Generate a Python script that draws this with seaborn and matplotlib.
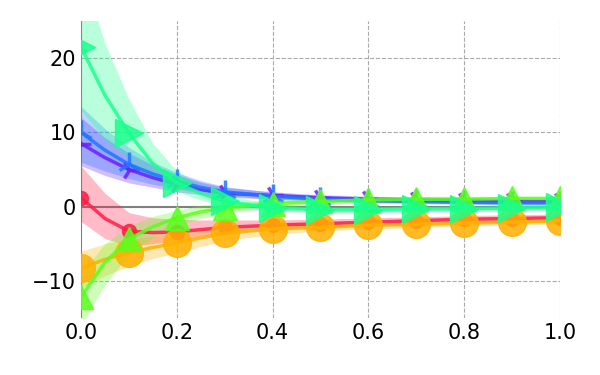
import numpy as np
import pandas as pd
import matplotlib
matplotlib.use('Agg')
import matplotlib.pyplot as plt
import seaborn as sns

# x positions (finer near 0 where the curves bend)
x_vals = [0.0, 0.05, 0.1, 0.15, 0.2, 0.25, 0.3, 0.4, 0.5, 0.6, 0.7, 0.8, 0.9, 1.0]
mark_idx = [0, 2, 4, 6, 7, 8, 9, 10, 11, 12, 13]

purple_mean = [8.5, 6.6, 5.0, 3.9, 3.0, 2.3, 1.8, 1.5, 1.2, 1.0, 0.9, 0.8, 0.7, 0.7]
purple_lo = [5.5, 4.2, 3.2, 2.6, 2.0, 1.6, 1.3, 1.0, 0.8, 0.6, 0.5, 0.4, 0.4, 0.4]
purple_hi = [12.0, 9.3, 7.2, 5.6, 4.3, 3.3, 2.6, 2.0, 1.6, 1.4, 1.3, 1.2, 1.1, 1.1]

blue_mean = [10.0, 7.6, 5.7, 4.4, 3.4, 2.6, 2.0, 1.4, 1.0, 0.8, 0.7, 0.6, 0.5, 0.5]
blue_lo = [6.0, 4.8, 3.8, 3.0, 2.4, 1.9, 1.5, 1.0, 0.7, 0.5, 0.4, 0.3, 0.2, 0.2]
blue_hi = [13.5, 10.5, 8.0, 6.0, 4.6, 3.5, 2.7, 1.9, 1.4, 1.1, 1.0, 0.9, 0.8, 0.8]

red_mean = [1.2, -1.6, -3.3, -3.5, -3.4, -3.1, -2.8, -2.5, -2.3, -2.1, -1.9, -1.7, -1.6, -1.5]
red_lo = [-2.0, -4.3, -5.3, -5.0, -4.6, -4.0, -3.6, -3.1, -2.8, -2.6, -2.4, -2.2, -2.1, -2.0]
red_hi = [5.5, 1.8, -0.8, -1.5, -1.7, -1.8, -1.8, -1.8, -1.7, -1.5, -1.4, -1.2, -1.1, -1.0]

orange_mean = [-8.3, -7.1, -6.2, -5.5, -4.9, -4.2, -3.6, -3.0, -2.8, -2.5, -2.4, -2.2, -2.1, -1.9]
orange_lo = [-11.0, -9.3, -8.0, -7.0, -6.2, -5.4, -4.6, -3.7, -3.3, -3.0, -2.8, -2.6, -2.5, -2.3]
orange_hi = [-6.0, -5.0, -4.4, -4.0, -3.6, -3.2, -2.8, -2.3, -2.2, -2.0, -1.9, -1.8, -1.7, -1.5]

green_mean = [-12.2, -7.5, -4.4, -2.7, -1.5, -0.7, -0.2, 0.4, 0.7, 0.9, 1.0, 1.0, 1.1, 1.1]
green_lo = [-16.0, -10.5, -6.5, -4.2, -2.6, -1.6, -0.9, -0.1, 0.3, 0.5, 0.6, 0.7, 0.8, 0.8]
green_hi = [-9.0, -5.0, -2.6, -1.3, -0.5, 0.2, 0.5, 0.9, 1.1, 1.3, 1.4, 1.4, 1.4, 1.4]

spring_mean = [21.5, 15.0, 9.9, 5.8, 3.2, 1.8, 0.7, -0.2, -0.4, -0.4, -0.3, -0.3, -0.2, -0.1]
spring_lo = [13.0, 9.0, 6.5, 3.8, 2.0, 0.9, 0.0, -0.6, -0.8, -0.8, -0.7, -0.7, -0.6, -0.5]
spring_hi = [32.0, 22.0, 14.5, 8.5, 4.8, 2.8, 1.6, 0.3, 0.0, 0.0, 0.1, 0.1, 0.2, 0.3]

series = [
    # mean, lo, hi, colour, marker, markersize
    (purple_mean, purple_lo, purple_hi, '#6a1eff', '4', 14),
    (blue_mean, blue_lo, blue_hi, '#1e78ff', '2', 18),
    (red_mean, red_lo, red_hi, '#ff1e46', 'o', 10),
    (orange_mean, orange_lo, orange_hi, '#ffb000', 'o', 20),
    (green_mean, green_lo, green_hi, '#5aff1e', '^', 17),
    (spring_mean, spring_lo, spring_hi, '#1aff8c', '>', 20),
]

sns.set_style('white')
fig, ax = plt.subplots(figsize=(6, 3.75), dpi=100)
fig.subplots_adjust(left=0.135, right=0.933, bottom=0.152, top=0.944)

ax.grid(True, linestyle='--', color='#aaaaaa', linewidth=0.8)
ax.axhline(0, color='#808080', lw=1.5, zorder=1)
ax.axvline(0, color='#808080', lw=1.5, zorder=1)

for mean, lo, hi, col, mk, ms in series:
    ax.fill_between(x_vals, lo, hi, color=col, alpha=0.3, lw=0, zorder=2)

for i, (mean, lo, hi, col, mk, ms) in enumerate(series):
    sns.lineplot(x=x_vals, y=mean, ax=ax, color=col, lw=2.5, marker=mk,
                 markersize=ms, markevery=mark_idx, alpha=0.85,
                 markeredgewidth=2.5 if mk in ('2', '4') else 1,
                 markeredgecolor=col, zorder=3 + i)

ax.set_xlim(0, 1)
ax.set_ylim(-15, 25)
ax.set_xticks([0.0, 0.2, 0.4, 0.6, 0.8, 1.0])
ax.set_yticks([-10, 0, 10, 20])
ax.tick_params(labelsize=15, length=0, labelcolor='black')
for s in ax.spines.values():
    s.set_visible(False)

plt.savefig('out.png')
